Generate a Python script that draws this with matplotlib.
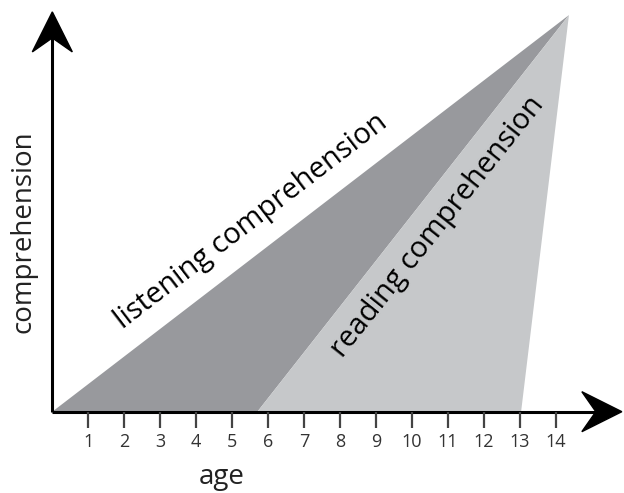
import numpy as np
import matplotlib
matplotlib.use('Agg')
import matplotlib.pyplot as plt
import matplotlib.transforms as mtransforms
from matplotlib.patches import Polygon

# ages shown on the axis
TICK_AGES = list(range(1, 15))
TICK_LABELS = [str(a) for a in TICK_AGES]

# listening comprehension wedge (age, comprehension)
LISTEN_AGE = [0.0, 14.36, 5.7]
LISTEN_COMP = [0.0, 1.0, 0.0]

# reading comprehension wedge
READ_AGE = [5.7, 14.36, 13.03]
READ_COMP = [0.0, 1.0, 0.0]

DARK = '#98999d'
LIGHT = '#c6c8ca'

plt.rcParams['font.family'] = ['Open Sans', 'DejaVu Sans']

fig = plt.figure(figsize=(6.24, 4.93), dpi=100)
ax = fig.add_axes([0, 0, 1, 1])
ax.set_xlim(-1.454, 15.89)
ax.set_ylim(-0.205, 1.038)
ax.axis('off')

ax.fill(LISTEN_AGE, LISTEN_COMP, color=DARK, lw=0)
ax.fill(READ_AGE, READ_COMP, color=LIGHT, lw=0)

# axes lines
ax.plot([0, 15.5], [0, 0], color='black', lw=2.2, solid_capstyle='butt')
ax.plot([0, 0], [0, 0.98], color='black', lw=2.2, solid_capstyle='butt')


def arrow_head(x, y, angle):
    # notched arrow head, sizes in inches, rotated to point along angle
    pts = np.array([[0, 0], [-0.40, 0.20], [-0.26, 0], [-0.40, -0.20]])
    th = np.deg2rad(angle)
    rot = np.array([[np.cos(th), -np.sin(th)], [np.sin(th), np.cos(th)]])
    pts = pts @ rot.T
    tr = fig.dpi_scale_trans + mtransforms.ScaledTranslation(x, y, ax.transData)
    ax.add_patch(Polygon(pts, closed=True, transform=tr, facecolor='black',
                         edgecolor='black', lw=1, joinstyle='miter'))


arrow_head(15.83, 0, 0)
arrow_head(0, 1.008, 90)

# ticks
ax.vlines(TICK_AGES, -0.042, 0, color='#444444', lw=1.6)
for a, lab in zip(TICK_AGES, TICK_LABELS):
    ax.text(a, -0.077, lab, ha='center', va='center', fontsize=13,
            fontweight='medium', color='#333333')

ax.text(4.7, -0.183, 'age', ha='center', va='baseline', fontsize=20,
        fontweight='medium', color='#222222')
ax.text(-0.80, 0.455, 'comprehension', ha='center', va='center',
        fontsize=20, fontweight='medium', rotation=90, color='#222222')

ax.text(5.52, 0.48, 'listening comprehension', ha='center', va='center',
        fontsize=21, fontweight='medium', rotation=37.5,
        rotation_mode='anchor', color='black')
ax.text(10.7, 0.465, 'reading comprehension', ha='center', va='center',
        fontsize=21, fontweight='medium', rotation=51.5,
        rotation_mode='anchor', color='black')

fig.savefig('out.png', dpi=100)
